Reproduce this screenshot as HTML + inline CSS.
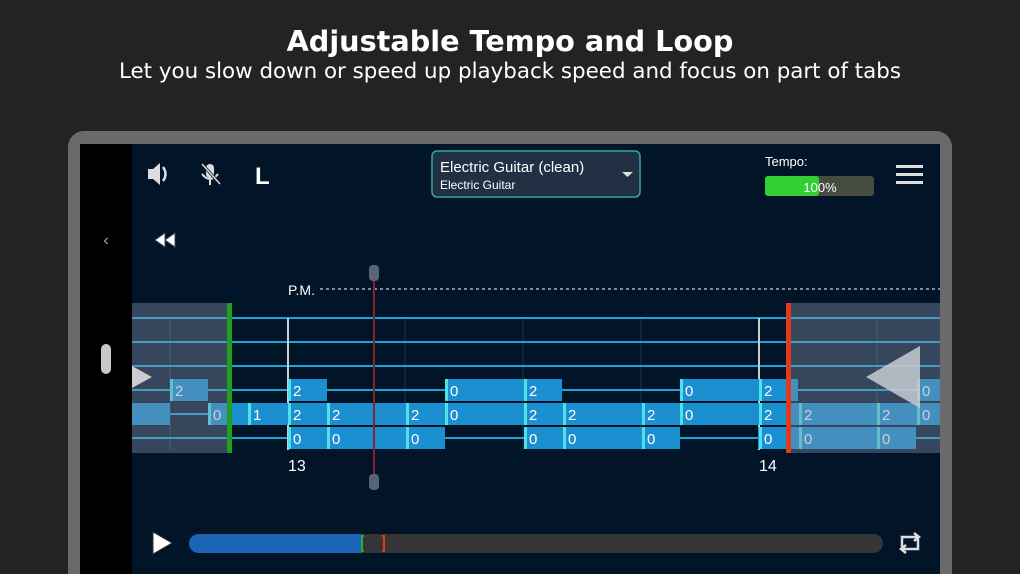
<!DOCTYPE html>
<html><head><meta charset="utf-8"><style>
html,body{margin:0;padding:0;background:#232323;}
body{width:1020px;height:574px;overflow:hidden;position:relative;font-family:"Liberation Sans",sans-serif;}
</style></head><body>
<svg width="1020" height="574" viewBox="0 0 1020 574" xmlns="http://www.w3.org/2000/svg" style="position:absolute;left:0;top:0">
<rect width="1020" height="574" fill="#232323"/>
<text x="510" y="51" fill="#fff" font-size="28.7" font-weight="bold" text-anchor="middle" font-family="DejaVu Sans, sans-serif">Adjustable Tempo and Loop</text>
<text x="510" y="78" fill="#fff" font-size="21.4" text-anchor="middle" font-family="DejaVu Sans, sans-serif">Let you slow down or speed up playback speed and focus on part of tabs</text>
<path d="M68 574V147a16 16 0 0 1 16-16h852a16 16 0 0 1 16 16v427z" fill="#6a6a6a"/>
<rect x="80" y="144" width="860" height="430" fill="#000"/>
<rect x="132" y="144" width="808" height="430" fill="#011428"/>
<text x="106" y="245" fill="#aaa" font-size="16" text-anchor="middle">‹</text>
<rect x="101" y="344" width="10" height="30" rx="5" fill="#c8c8c8"/>
<path d="M148 169h5l7-6v22l-7-6h-5z" fill="#ddd"/><path d="M163 167q5 7 0 14" stroke="#ddd" stroke-width="2.5" fill="none"/>
<rect x="206" y="164" width="8" height="14" rx="4" fill="#ddd"/><path d="M202 174q8 10 16 0M210 180v5" stroke="#ddd" stroke-width="2" fill="none"/><line x1="202" y1="164" x2="220" y2="184" stroke="#011428" stroke-width="3"/><line x1="202" y1="164" x2="220" y2="184" stroke="#ddd" stroke-width="1.5"/>
<text x="255" y="184" fill="#fff" font-size="24" font-weight="bold">L</text>
<path d="M155 240l10-7v14zM165 240l10-7v14z" fill="#fff" stroke="#445" stroke-width="1"/>
<rect x="432" y="151" width="208" height="46" rx="5" fill="#223044" stroke="#2fa8a8" stroke-width="1.5"/>
<text x="440" y="172" fill="#fff" font-size="15">Electric Guitar (clean)</text>
<text x="440" y="189" fill="#fff" font-size="12">Electric Guitar</text>
<path d="M622 172h11l-5.5 5z" fill="#ddd"/>
<text x="765" y="166" fill="#fff" font-size="13">Tempo:</text>
<rect x="765" y="176" width="109" height="20" rx="3" fill="#464c40"/>
<rect x="765" y="176" width="54" height="20" rx="3" fill="#33d033"/>
<text x="820" y="192" fill="#fff" font-size="13" text-anchor="middle">100%</text>
<rect x="896" y="165" width="27" height="3" fill="#ddd"/><rect x="896" y="173" width="27" height="3" fill="#ddd"/><rect x="896" y="181" width="27" height="3" fill="#ddd"/>
<text x="288" y="295" fill="#fff" font-size="14">P.M.</text>
<line x1="320" y1="289" x2="940" y2="289" stroke="#fff" stroke-width="1" stroke-dasharray="3,3"/>
<g stroke="#1a3a5a" stroke-width="1">
<line x1="170" y1="318" x2="170" y2="450"/><line x1="405" y1="318" x2="405" y2="450"/><line x1="523" y1="318" x2="523" y2="450"/><line x1="641" y1="318" x2="641" y2="450"/><line x1="877" y1="318" x2="877" y2="450"/>
</g>
<g stroke="#1da3d8" stroke-width="2">
<line x1="132" y1="318" x2="940" y2="318"/><line x1="132" y1="342" x2="940" y2="342"/><line x1="132" y1="366" x2="940" y2="366"/><line x1="132" y1="390" x2="940" y2="390"/><line x1="132" y1="414" x2="940" y2="414"/><line x1="132" y1="438" x2="940" y2="438"/>
</g>
<line x1="288" y1="318" x2="288" y2="450" stroke="#ccc" stroke-width="2"/>
<line x1="759" y1="318" x2="759" y2="450" stroke="#ccc" stroke-width="2"/>
<g fill="#1b8fd0">
<rect x="170" y="379" width="38" height="22"/>
<rect x="288" y="379" width="39" height="22"/><rect x="445" y="379" width="117" height="22"/><rect x="680" y="379" width="118" height="22"/><rect x="917" y="379" width="23" height="22"/>
<rect x="132" y="403" width="38" height="22"/><rect x="208" y="403" width="732" height="22"/>
<rect x="288" y="427" width="157" height="22"/><rect x="524" y="427" width="156" height="22"/><rect x="758" y="427" width="158" height="22"/>
</g>
<g fill="#4fe0e8">
<rect x="170" y="379" width="3" height="22"/><rect x="288" y="379" width="3" height="22"/><rect x="445" y="379" width="3" height="22"/><rect x="524" y="379" width="3" height="22"/><rect x="680" y="379" width="3" height="22"/><rect x="759" y="379" width="3" height="22"/><rect x="917" y="379" width="3" height="22"/>
<rect x="208" y="403" width="3" height="22"/><rect x="248" y="403" width="3" height="22"/><rect x="288" y="403" width="3" height="22"/><rect x="327" y="403" width="3" height="22"/><rect x="406" y="403" width="3" height="22"/><rect x="445" y="403" width="3" height="22"/><rect x="524" y="403" width="3" height="22"/><rect x="563" y="403" width="3" height="22"/><rect x="642" y="403" width="3" height="22"/><rect x="680" y="403" width="3" height="22"/><rect x="759" y="403" width="3" height="22"/><rect x="799" y="403" width="3" height="22"/><rect x="877" y="403" width="3" height="22"/><rect x="917" y="403" width="3" height="22"/>
<rect x="288" y="427" width="3" height="22"/><rect x="327" y="427" width="3" height="22"/><rect x="406" y="427" width="3" height="22"/><rect x="524" y="427" width="3" height="22"/><rect x="563" y="427" width="3" height="22"/><rect x="642" y="427" width="3" height="22"/><rect x="759" y="427" width="3" height="22"/><rect x="799" y="427" width="3" height="22"/><rect x="877" y="427" width="3" height="22"/>
</g>
<g fill="#fff" font-size="15" font-family="Liberation Sans, sans-serif">
<text x="175" y="396">2</text><text x="293" y="396">2</text><text x="450" y="396">0</text><text x="529" y="396">2</text><text x="685" y="396">0</text><text x="764" y="396">2</text><text x="922" y="396">0</text>
<text x="213" y="420">0</text><text x="253" y="420">1</text><text x="293" y="420">2</text><text x="332" y="420">2</text><text x="411" y="420">2</text><text x="450" y="420">0</text><text x="529" y="420">2</text><text x="568" y="420">2</text><text x="647" y="420">2</text><text x="685" y="420">0</text><text x="764" y="420">2</text><text x="804" y="420">2</text><text x="882" y="420">2</text><text x="922" y="420">0</text>
<text x="293" y="444">0</text><text x="332" y="444">0</text><text x="411" y="444">0</text><text x="529" y="444">0</text><text x="568" y="444">0</text><text x="647" y="444">0</text><text x="764" y="444">0</text><text x="804" y="444">0</text><text x="882" y="444">0</text>
</g>
<rect x="132" y="303" width="96" height="150" fill="#8090a8" fill-opacity="0.42"/>
<rect x="790" y="303" width="150" height="150" fill="#8090a8" fill-opacity="0.42"/>
<path d="M132 366l20 11-20 11z" fill="#ccc"/>
<path d="M866 377l54-31v62z" fill="#c8ccd2" fill-opacity="0.85"/>
<rect x="227" y="303" width="5" height="150" fill="#1fa01f"/>
<rect x="786" y="303" width="5" height="150" fill="#e03a1a"/>
<line x1="374" y1="270" x2="374" y2="488" stroke="#8a2030" stroke-width="2"/>
<rect x="369" y="265" width="10" height="16" rx="4" fill="#5a6478"/>
<rect x="369" y="474" width="10" height="16" rx="4" fill="#5a6478"/>
<text x="288" y="471" fill="#fff" font-size="16">13</text>
<text x="759" y="471" fill="#fff" font-size="16">14</text>
<path d="M153 532l19 11-19 11z" fill="#fff" stroke="#333" stroke-width="1"/>
<rect x="189" y="534" width="694" height="19" rx="9.5" fill="#353535"/>
<path d="M198.5 534H362v19H198.5a9.5 9.5 0 0 1 0-19z" fill="#1e64b6"/>
<path d="M364 536h-2v15h2" stroke="#22b022" stroke-width="2" fill="none"/>
<path d="M382 536h2v15h-2" stroke="#e03a1a" stroke-width="2" fill="none"/>
<path d="M902 547v-10h16M914 533l5 4-5 4M918 539v10h-16M906 545l-5 4 5 4" stroke="#ddd" stroke-width="2.5" fill="none"/>
</svg>
</body></html>
